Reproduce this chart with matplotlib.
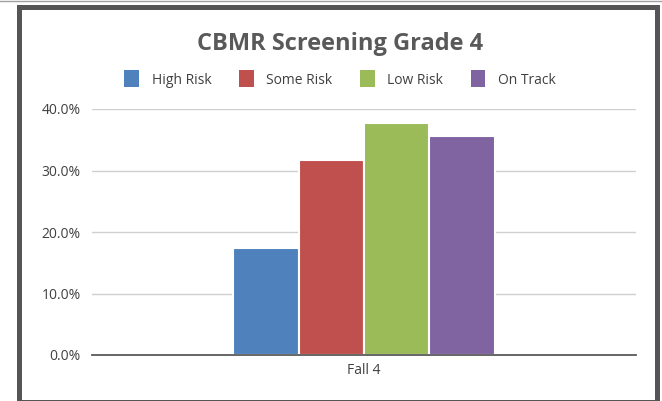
import matplotlib.pyplot as plt
from matplotlib.patches import Rectangle
import numpy as np

categories = ['Fall 4']
series = ['High Risk', 'Some Risk', 'Low Risk', 'On Track']
values = [17.4, 31.7, 37.7, 35.6]
colors = ['#4F81BD', '#C0504D', '#9BBB59', '#8064A2']
yticks = [0, 10, 20, 30, 40]

plt.rcParams['font.family'] = ['Open Sans', 'DejaVu Sans']

fig = plt.figure(figsize=(6.62, 4.01), dpi=100)
ax = fig.add_axes([92 / 662, 1 - 355 / 401, 544 / 662, 246 / 401])

# bars
bw = 0.12
x0 = 0
offsets = (np.arange(len(series)) - 1.5) * bw
for off, v, c, name in zip(offsets, values, colors, series):
    ax.bar(x0 + off, v, width=bw, color=c, edgecolor='white', linewidth=1.5, label=name)

ax.set_xlim(-0.5, 0.5)
ax.set_ylim(0, 40)
ax.set_yticks(yticks)
ax.set_yticklabels(['%.1f%%' % t for t in yticks], fontsize=10, color='#404040')
ax.set_xticks([0])
ax.set_xticklabels(categories, fontsize=10, color='#404040')
ax.tick_params(length=0, pad=8)
ax.tick_params(axis='x', pad=6)
ax.grid(axis='y', color='#D0D0D0', linewidth=1)
ax.set_axisbelow(True)
for s in ['top', 'right', 'left']:
    ax.spines[s].set_visible(False)
ax.spines['bottom'].set_color('#595959')
ax.spines['bottom'].set_linewidth(1.3)

fig.text(340 / 662, 1 - 44 / 401, 'CBMR Screening Grade 4', ha='center', va='center',
         fontsize=17, fontweight='bold', color='#595959')
leg = fig.legend(loc='center', bbox_to_anchor=(340 / 662, 1 - 79 / 401), ncol=4, frameon=False,
                 fontsize=10, handlelength=1.05, handleheight=1.5, columnspacing=2.0,
                 handletextpad=0.9, labelcolor='#404040')
for h in leg.legend_handles:
    h.set_edgecolor('none')

# outer frame
fig.add_artist(Rectangle((18.5 / 662, 1 - 401.5 / 401), (657 - 18.5) / 662, (401.5 - 7) / 401,
                         transform=fig.transFigure, fill=False, edgecolor='#555555',
                         linewidth=3.6))
fig.add_artist(plt.Line2D([0, 1], [1 - 1 / 401, 1 - 1 / 401], transform=fig.transFigure,
                          color='#A0A0A0', linewidth=1))

fig.savefig('out.png', dpi=100)
